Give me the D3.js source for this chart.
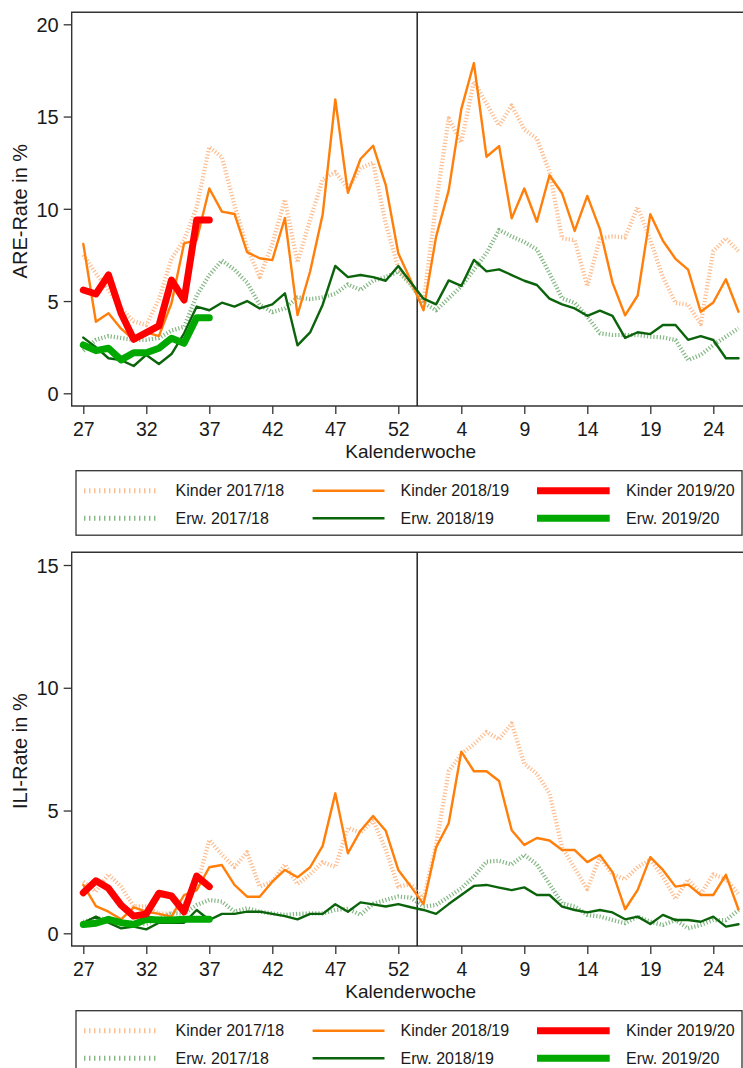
<!DOCTYPE html>
<html>
<head>
<meta charset="utf-8">
<script src="https://cdn.jsdelivr.net/npm/d3@7"></script>
<style>
  html, body { margin: 0; padding: 0; background: #fff; }
  svg { display: block; }
  text { font-family: "Liberation Sans", Arial, Helvetica, sans-serif; fill: #1a1a1a; }
</style>
</head>
<body>
<div id="chart"></div>
<script>
// ---- Data ----
// Calendar weeks on the x axis (season week 27 .. 53, then 1 .. 26)
const weeks = [27,28,29,30,31,32,33,34,35,36,37,38,39,40,41,42,43,44,45,46,47,48,49,50,51,52,53,
               1,2,3,4,5,6,7,8,9,10,11,12,13,14,15,16,17,18,19,20,21,22,23,24,25,26];
const xTickLabels = [27,32,37,42,47,52,4,9,14,19,24];
const areTicks = [0,5,10,15,20];
const iliTicks = [0,5,10,15];

// ARE-Rate in %
const are_kinder_1718 = [7.5,6.5,5.6,4.6,3.9,3.7,5.1,7.3,8.3,10.1,13.35,12.8,10.2,7.9,6.3,8.1,10.5,7.1,9.4,11.6,12.0,11.1,12.2,12.5,9.2,6.8,5.9,4.9,10.3,14.9,13.6,16.9,15.7,14.5,15.6,14.3,13.8,12.0,8.4,8.3,5.8,8.4,8.5,8.45,10.1,8.3,6.3,4.9,4.8,3.75,7.7,8.4,7.7];
const are_kinder_1819 = [8.1,3.88,4.34,3.5,2.89,3.3,3.1,4.88,8.13,8.31,11.1,9.85,9.72,7.65,7.32,7.22,9.5,4.24,6.6,9.7,15.93,10.87,12.7,13.42,11.3,7.59,6.1,4.5,8.49,11.0,15.4,17.9,12.82,13.4,9.48,11.1,9.3,11.82,10.84,8.8,10.7,8.9,6.0,4.22,5.3,9.71,8.27,7.29,6.7,4.42,4.92,6.18,4.42];
const are_kinder_1920 = [5.6,5.38,6.41,4.34,2.93,3.29,3.65,6.14,5.06,9.39,9.39];
const are_erw_1718 = [2.3,2.9,3.1,3.0,2.9,2.9,3.0,3.4,3.6,5.3,6.4,7.2,6.7,6.0,4.8,4.4,4.6,5.2,5.1,5.2,5.4,5.9,5.6,6.1,6.3,6.6,5.9,4.9,4.5,5.15,5.8,6.7,7.6,8.85,8.5,8.2,7.8,6.5,5.15,4.9,4.15,3.25,3.16,3.16,3.16,3.07,3.03,2.89,1.8,2.08,2.62,3.07,3.52];
const are_erw_1819 = [3.02,2.5,1.9,1.8,1.48,2.08,1.59,2.13,3.25,4.7,4.5,4.91,4.7,5.0,4.6,4.82,5.42,2.6,3.3,4.8,6.9,6.3,6.41,6.3,6.1,6.9,6.0,5.13,4.82,6.12,5.82,7.23,6.61,6.72,6.41,6.1,5.87,5.13,4.82,4.6,4.2,4.48,4.2,3.0,3.31,3.21,3.7,3.7,2.9,3.1,2.89,1.9,1.9];
const are_erw_1920 = [2.62,2.31,2.44,1.81,2.2,2.2,2.44,2.98,2.71,4.1,4.1];

// ILI-Rate in %
const ili_kinder_1718 = [2.1,1.7,2.4,1.9,1.1,1.1,0.8,0.8,1.2,1.9,3.8,3.2,2.7,3.3,1.9,2.1,2.8,2.0,2.4,2.9,2.7,4.3,4.1,4.6,3.4,1.9,2.0,1.4,3.6,6.6,7.3,7.7,8.2,7.9,8.55,6.9,6.5,5.7,3.5,2.65,1.8,3.1,2.4,2.2,2.7,3.0,2.3,1.4,2.2,1.6,2.4,2.2,1.6];
const ili_kinder_1819 = [1.97,1.11,0.88,0.57,1.06,0.88,0.79,0.68,1.56,1.76,2.69,2.78,1.97,1.49,1.49,2.1,2.58,2.28,2.69,3.56,5.7,3.26,4.18,4.78,4.18,2.58,1.9,1.19,3.5,4.48,7.4,6.6,6.6,6.2,4.2,3.6,3.88,3.78,3.39,3.39,2.9,3.19,2.49,0.98,1.77,3.1,2.58,1.9,1.98,1.56,1.56,2.38,0.97];
const ili_kinder_1920 = [1.65,2.14,1.83,1.15,0.7,0.79,1.63,1.52,0.88,2.33,1.9];
const ili_erw_1718 = [0.47,0.61,0.57,0.47,0.43,0.38,0.61,0.81,0.81,1.15,1.36,1.29,0.88,1.02,0.88,0.81,0.75,0.79,0.81,0.81,0.95,1.0,0.75,1.2,1.36,1.5,1.45,1.09,1.15,1.49,1.83,2.31,2.92,2.95,2.8,3.2,2.8,2.0,1.22,1.09,0.75,0.68,0.54,0.41,0.68,0.47,0.34,0.54,0.2,0.34,0.54,0.54,0.95];
const ili_erw_1819 = [0.43,0.68,0.43,0.2,0.27,0.16,0.43,0.43,0.43,0.95,0.54,0.79,0.79,0.88,0.88,0.79,0.7,0.57,0.79,0.79,1.18,0.88,1.26,1.18,1.09,1.19,1.06,0.95,0.79,1.19,1.56,1.93,1.97,1.86,1.76,1.87,1.56,1.56,1.09,0.95,0.85,0.95,0.85,0.57,0.68,0.38,0.75,0.54,0.54,0.47,0.68,0.27,0.37];
const ili_erw_1920 = [0.36,0.41,0.57,0.43,0.36,0.57,0.54,0.54,0.57,0.57,0.57];

const seriesNames = ["Kinder 2017/18","Kinder 2018/19","Kinder 2019/20","Erw. 2017/18","Erw. 2018/19","Erw. 2019/20"];

// ---- Styles ----
const styles = {
  "Kinder 2017/18": {color:"#FDB27A", width:4.2, dash:"1.2,2.0", cap:"butt", opacity:0.85},
  "Erw. 2017/18":   {color:"#6FAA6F", width:4.2, dash:"1.2,2.0", cap:"butt", opacity:0.85},
  "Kinder 2018/19": {color:"#FF7F0A", width:2.4, dash:null, cap:"round", opacity:1},
  "Erw. 2018/19":   {color:"#0B640B", width:2.4, dash:null, cap:"round", opacity:1},
  "Kinder 2019/20": {color:"#FF0000", width:7, dash:null, cap:"round", opacity:1},
  "Erw. 2019/20":   {color:"#00A800", width:7, dash:null, cap:"round", opacity:1}
};

const W = 743, H = 1068;
const svg = d3.select("#chart").append("svg").attr("width", W).attr("height", H);

const frame = {left: 71.7, top: 12.3, bottom: 406, right: 746};
const x = d3.scaleLinear().domain([0, weeks.length - 1]).range([83.3, 738.5]);

function drawPanel(offsetY, yMax, yTicks, yLabel, data) {
  const g = svg.append("g").attr("transform", `translate(0,${offsetY})`);
  const yTop = yMax === 20 ? 24.3 : 25.0;
  const y = d3.scaleLinear().domain([0, yMax]).range([393.3, yTop]);

  // frame
  g.append("path")
    .attr("d", `M${frame.right},${frame.top} H${frame.left} V${frame.bottom} H${frame.right}`)
    .attr("fill", "none").attr("stroke", "#333").attr("stroke-width", 1.4);

  // y axis
  const yAxis = d3.axisLeft(y).tickValues(yTicks).tickSize(8).tickPadding(5).tickFormat(d3.format("d"));
  const ya = g.append("g").attr("transform", `translate(${frame.left},0)`).call(yAxis);
  ya.select(".domain").remove();
  ya.selectAll(".tick line").attr("stroke", "#333").attr("stroke-width", 1.3);
  ya.selectAll(".tick text").attr("font-size", 20).attr("fill", "#1a1a1a")
    .attr("font-family", '"Liberation Sans", Arial, sans-serif').attr("dy", "0.36em");

  // x axis
  const tickIdx = xTickLabels.map(w => weeks.indexOf(w));
  const xAxis = d3.axisBottom(x).tickValues(tickIdx).tickSize(8).tickPadding(8)
    .tickFormat(i => weeks[i]);
  const xa = g.append("g").attr("transform", `translate(0,${frame.bottom})`).call(xAxis);
  xa.select(".domain").remove();
  xa.selectAll(".tick line").attr("stroke", "#333").attr("stroke-width", 1.3);
  xa.selectAll(".tick text").attr("font-size", 19.5).attr("fill", "#1a1a1a")
    .attr("font-family", '"Liberation Sans", Arial, sans-serif').attr("dy", "0.71em");

  // axis titles
  g.append("text").attr("x", 410.7).attr("y", 457.5).attr("text-anchor", "middle")
    .attr("font-size", 19).text("Kalenderwoche");
  g.append("text").attr("transform", `translate(26.5,${(frame.top+frame.bottom)/2 + 2}) rotate(-90)`)
    .attr("text-anchor", "middle").attr("font-size", 20).text(yLabel);

  // year boundary line
  g.append("line").attr("x1", x(26.5)).attr("x2", x(26.5))
    .attr("y1", frame.top).attr("y2", frame.bottom)
    .attr("stroke", "#222").attr("stroke-width", 1.5);

  // series
  const line = d3.line().x((d, i) => x(i)).y(d => y(d));
  const order = ["Kinder 2017/18","Erw. 2017/18","Kinder 2018/19","Erw. 2018/19","Erw. 2019/20","Kinder 2019/20"];
  order.forEach(name => {
    const s = styles[name];
    g.append("path").datum(data[name])
      .attr("d", line).attr("fill", "none")
      .attr("stroke", s.color).attr("stroke-width", s.width)
      .attr("stroke-opacity", s.opacity)
      .attr("stroke-dasharray", s.dash)
      .attr("stroke-linejoin", "round").attr("stroke-linecap", s.cap);
  });

  // legend
  const lg = g.append("g");
  lg.append("rect").attr("x", 76).attr("y", 470.7).attr("width", 666).attr("height", 64.5)
    .attr("fill", "none").attr("stroke", "#333").attr("stroke-width", 1.3);
  const cols = [{x1: 84, x2: 156, tx: 175.5}, {x1: 312.6, x2: 384.5, tx: 400.6}, {x1: 537, x2: 609.7, tx: 626}];
  const rowsY = [490.7, 518.3];
  const grid = [["Kinder 2017/18","Kinder 2018/19","Kinder 2019/20"],["Erw. 2017/18","Erw. 2018/19","Erw. 2019/20"]];
  grid.forEach((row, r) => row.forEach((name, c) => {
    const s = styles[name];
    const thick = s.width > 5;
    lg.append("line").attr("x1", cols[c].x1).attr("x2", cols[c].x2)
      .attr("y1", rowsY[r]).attr("y2", rowsY[r])
      .attr("stroke", s.color).attr("stroke-opacity", s.opacity)
      .attr("stroke-width", s.dash ? 5 : (thick ? 7 : 2.6))
      .attr("stroke-dasharray", s.dash ? "1.4,3.6" : null);
    lg.append("text").attr("x", cols[c].tx).attr("y", rowsY[r]).attr("dy", "0.36em")
      .attr("font-size", 16).text(name);
  }));
}

drawPanel(0, 20, areTicks, "ARE-Rate in %", {
  "Kinder 2017/18": are_kinder_1718, "Kinder 2018/19": are_kinder_1819, "Kinder 2019/20": are_kinder_1920,
  "Erw. 2017/18": are_erw_1718, "Erw. 2018/19": are_erw_1819, "Erw. 2019/20": are_erw_1920
});
drawPanel(540, 15, iliTicks, "ILI-Rate in %", {
  "Kinder 2017/18": ili_kinder_1718, "Kinder 2018/19": ili_kinder_1819, "Kinder 2019/20": ili_kinder_1920,
  "Erw. 2017/18": ili_erw_1718, "Erw. 2018/19": ili_erw_1819, "Erw. 2019/20": ili_erw_1920
});
</script>
</body>
</html>
